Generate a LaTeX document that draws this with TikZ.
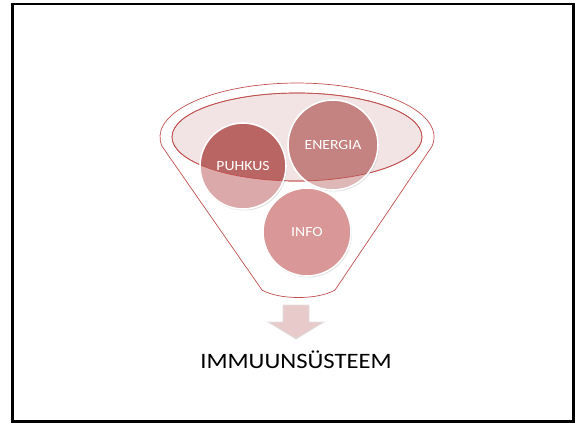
\documentclass[tikz,border=0pt]{standalone}
\usepackage{fontspec}
\setmainfont{Carlito}
\usepackage{graphicx}
\usetikzlibrary{shadows}
\definecolor{rim}{HTML}{C0504D}
\definecolor{bowl}{HTML}{F2E4E4}
\definecolor{puhkuslt}{HTML}{DBA9A9}
\definecolor{puhkusdk}{HTML}{B96563}
\definecolor{energialt}{HTML}{DEB7B7}
\definecolor{energiadk}{HTML}{C48281}
\definecolor{infocol}{HTML}{D99797}
\definecolor{arrowcol}{HTML}{E8CACA}
\newcommand\wide[1]{\scalebox{1.12}[1]{#1}}
\begin{document}
\begin{tikzpicture}[x=1pt,y=1pt,
  ring/.style={circle,draw=white,line width=1.6pt,minimum size=#1,inner sep=0pt,
    text=white,font=\fontsize{14}{16}\selectfont},
  funnel/.style={draw=rim,line width=0.7pt}]
\useasboundingbox (0,0) rectangle (579,-424);
\draw[line width=2.5pt] (12.5,-4) rectangle (573.5,-421.5);
% funnel
\draw[funnel] (162.1,-146.4) arc[start angle=190,end angle=-10,x radius=137,y radius=54]
  -- (335,-290) .. controls (318,-300) and (279,-300) .. (262,-290) -- cycle;
\draw[funnel,fill=bowl] (297,-137) ellipse[x radius=125,y radius=44];
% circles
\fill[puhkuslt,drop shadow={opacity=0.25,shadow xshift=1pt,shadow yshift=-1.5pt}] (243,-166) circle (43);
\fill[energialt,drop shadow={opacity=0.25,shadow xshift=1pt,shadow yshift=-1.5pt}] (333,-145) circle (45);
\fill[infocol,drop shadow={opacity=0.25,shadow xshift=1pt,shadow yshift=-1.5pt}] (307,-232) circle (44);
\begin{scope}
\clip (297,-137) ellipse[x radius=125,y radius=44];
\fill[puhkusdk] (243,-166) circle (43);
\fill[energiadk] (333,-145) circle (45);
\end{scope}
\draw[funnel] (297,-137) ellipse[x radius=125,y radius=44];
\node[ring=86pt] (puhkus) at (243,-166) {\wide{PUHKUS}};
\node[ring=90pt] (energia) at (333,-145) {\wide{ENERGIA}};
\node[ring=88pt] (info) at (307,-232) {\wide{INFO}};
% arrow
\draw[draw=black!12,line width=0.8pt,fill=arrowcol] (283,-305) -- (309,-305) -- (309,-322)
  -- (324,-322) -- (296,-339) -- (268,-322) -- (283,-322) -- cycle;
\node[font=\fontsize{22}{26}\selectfont] (immuun) at (296,-360) {\wide{IMMUUNSÜSTEEM}};
\end{tikzpicture}
\end{document}
